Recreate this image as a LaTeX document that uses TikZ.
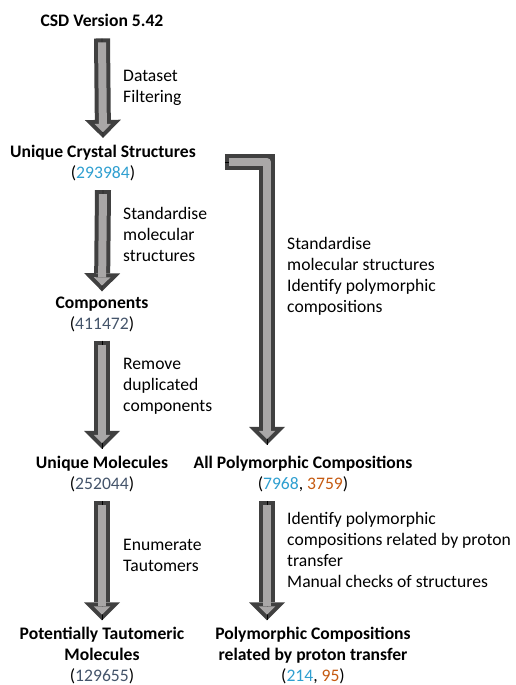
\documentclass[tikz,border=0pt]{standalone}
\usepackage{fontspec}
\setmainfont{Carlito}
\usepackage{tikz}
\usetikzlibrary{arrows.meta}
\definecolor{arrowdark}{HTML}{404040}
\definecolor{arrowfill}{HTML}{A9A7A7}
\definecolor{numblue}{HTML}{2F9FD0}
\definecolor{numslate}{HTML}{44546A}
\definecolor{numorange}{HTML}{C55A11}

\begin{document}
\begin{tikzpicture}[x=1pt, y=-1pt,
  every node/.style={font=\fontsize{17.6pt}{21pt}\selectfont, inner sep=0pt},
  stage/.style={align=center, font=\fontsize{17.6pt}{21pt}\selectfont\bfseries},
  steptext/.style={align=left, anchor=west},
  fatarrow/.style={line join=round,
    preaction={draw=arrowdark, line width=16pt, shorten <=0pt, shorten >=0pt,
      -{Triangle[width=36pt 0 0, length=18pt 0 0, line width=0pt]}},
    postaction={draw=arrowfill, line width=8pt, shorten <=4pt, shorten >=5.7pt,
      -{Triangle[width=16.5pt 0 0, length=8.3pt 0 0, line width=0pt]}}}]
\useasboundingbox (0,0) rectangle (515,685);
\node[stage] (csd) at (102,20) {CSD Version 5.42};
\node[stage] (ucs) at (103,163) {Unique Crystal Structures\\\mdseries(\textcolor{numblue}{293984})};
\node[stage] (comp) at (102,314) {Components\\\mdseries(\textcolor{numslate}{411472})};
\node[stage] (umol) at (102,474) {Unique Molecules\\\mdseries(\textcolor{numslate}{252044})};
\node[stage] (ptm) at (102,656) {Potentially Tautomeric\\Molecules\\\mdseries(\textcolor{numslate}{129655})};
\node[stage] (apc) at (303,474) {All Polymorphic Compositions\\\mdseries(\textcolor{numblue}{7968}, \textcolor{numorange}{3759})};
\node[stage] (pcp) at (313,656) {Polymorphic Compositions\\related by proton transfer\\\mdseries(\textcolor{numblue}{214}, \textcolor{numorange}{95})};
\coordinate (bend) at (267,162);
% step labels
\node[steptext] (filt) at (123,88) {Dataset\\Filtering};
\node[steptext] (stdz) at (123,234) {Standardise\\molecular\\structures};
\node[steptext] (dedup) at (123,386) {Remove\\duplicated\\components};
\node[steptext] (enum) at (123,555) {Enumerate\\Tautomers};
\node[steptext] (ident) at (287,276) {Standardise\\molecular structures\\Identify polymorphic\\compositions};
\node[steptext] (check) at (287,549.5) {Identify polymorphic\\compositions related by proton\\transfer\\Manual checks of structures};
% arrows
\draw[fatarrow] ([yshift=-12pt]csd.south) -- ([yshift=7pt]ucs.north);
\draw[fatarrow] ([yshift=-9pt]ucs.south) -- ([yshift=5pt]comp.north);
\draw[fatarrow] ([yshift=-9pt]comp.south) -- ([yshift=7pt]umol.north);
\draw[fatarrow] ([yshift=-9pt]umol.south) -- ([yshift=7pt]ptm.north);
\draw[fatarrow] ([xshift=29pt]ucs.east |- bend) -- (bend) -- ([yshift=11pt]apc.north -| bend);
\draw[fatarrow] ([yshift=-9pt]apc.south -| bend) -- ([yshift=7pt]pcp.north -| bend);
\end{tikzpicture}
\end{document}
